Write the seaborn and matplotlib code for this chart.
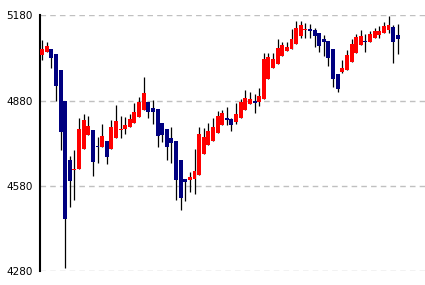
import matplotlib
matplotlib.use("Agg")
import matplotlib.pyplot as plt
import seaborn as sns
import pandas as pd
import numpy as np

opens = [5041, 5051, 5061, 5044, 4987, 4879, 4670, 4637, 4639, 4710,
         4759, 4775, 4719, 4717, 4737, 4710, 4749, 4777, 4779, 4787,
         4801, 4823, 4847, 4875, 4855, 4850, 4800, 4779, 4748, 4737,
         4670, 4603, 4601, 4603, 4619, 4692, 4724, 4738, 4765, 4793,
         4818, 4814, 4805, 4819, 4847, 4868, 4877, 4875, 4886, 4957,
         4995, 5010, 5038, 5055, 5062, 5080, 5108, 5128, 5132, 5128,
         5118, 5097, 5089, 5061, 4975, 4981, 4988, 5017, 5048, 5077,
         5089, 5087, 5101, 5112, 5119, 5128, 5139, 5111]
highs = [5093, 5086, 5061, 5044, 4987, 4879, 4687, 4705, 4819, 4834,
         4825, 4775, 4751, 4799, 4737, 4813, 4864, 4825, 4821, 4833,
         4871, 4893, 4962, 4875, 4881, 4850, 4800, 4779, 4786, 4737,
         4670, 4603, 4630, 4709, 4786, 4783, 4800, 4818, 4843, 4846,
         4857, 4820, 4871, 4887, 4917, 4910, 4905, 4926, 5046, 5046,
         5046, 5095, 5085, 5085, 5131, 5161, 5160, 5152, 5149, 5135,
         5118, 5112, 5089, 5061, 4975, 5022, 5058, 5095, 5114, 5128,
         5113, 5125, 5135, 5142, 5156, 5178, 5146, 5149]
lows = [5022, 5051, 4995, 4879, 4705, 4290, 4505, 4529, 4639, 4710,
        4759, 4614, 4660, 4717, 4657, 4710, 4749, 4749, 4763, 4787,
        4801, 4823, 4847, 4820, 4799, 4717, 4735, 4670, 4661, 4532,
        4497, 4526, 4559, 4552, 4619, 4692, 4724, 4738, 4765, 4793,
        4793, 4773, 4799, 4819, 4847, 4868, 4837, 4861, 4886, 4957,
        4995, 5010, 5038, 5055, 5062, 5080, 5101, 5101, 5101, 5069,
        5052, 5038, 5002, 4928, 4911, 4978, 4988, 5017, 5048, 5077,
        5052, 5087, 5101, 5101, 5119, 5118, 5013, 5045]
closes = [5061, 5072, 5031, 4931, 4768, 4465, 4596, 4641, 4779, 4811,
          4790, 4664, 4717, 4754, 4682, 4786, 4807, 4780, 4793, 4814,
          4839, 4875, 4906, 4840, 4840, 4756, 4759, 4717, 4731, 4600,
          4538, 4594, 4613, 4634, 4762, 4751, 4772, 4786, 4825, 4835,
          4811, 4793, 4834, 4874, 4891, 4887, 4872, 4895, 5025, 5032,
          5025, 5065, 5075, 5068, 5095, 5135, 5146, 5132, 5125, 5108,
          5073, 5087, 5031, 4957, 4920, 4994, 5041, 5080, 5105, 5107,
          5086, 5114, 5125, 5125, 5142, 5146, 5087, 5098]
y_ticks = [4280, 4580, 4880, 5180]

df = pd.DataFrame({"open": opens, "high": highs, "low": lows, "close": closes})
df["idx"] = np.arange(len(df))
df["up"] = df["close"] >= df["open"]
df["bottom"] = df[["open", "close"]].min(axis=1)
df["height"] = (df["close"] - df["open"]).abs().clip(lower=4)

sns.set_style("white")
plt.rcParams["font.family"] = ["DejaVu Sans"]

fig = plt.figure(figsize=(4.25, 2.85), dpi=100)
ax = fig.add_axes([40 / 425, 1 - 271.3 / 285, 1 - 40 / 425, (271.3 - 15.3) / 285])

for yv in y_ticks:
    ax.axhline(yv, color="#c0c0c0", lw=1.0, ls=(0, (4, 3)), zorder=0)

ax.vlines(df["idx"], df["low"], df["high"], color="black", lw=0.9, zorder=2)
colors = np.where(df["up"], "#ff0000", "#000080")
ax.bar(df["idx"], df["height"], bottom=df["bottom"], width=0.85,
       color=colors, edgecolor="none", zorder=3)

ax.set_xlim(-0.45, 82.9)
ax.set_ylim(4280, 5180)
ax.set_yticks(y_ticks)
ax.set_yticklabels([str(v) for v in y_ticks], fontsize=7.5)
ax.set_xticks([])
for s in ["top", "right", "bottom"]:
    ax.spines[s].set_visible(False)
ax.spines["left"].set_color("black")
ax.spines["left"].set_linewidth(1.5)
ax.tick_params(axis="y", direction="in", length=2.5, width=1.2, color="black", pad=5, labelcolor="black")
ax.set_facecolor("white")

fig.savefig("out.png", dpi=100)
